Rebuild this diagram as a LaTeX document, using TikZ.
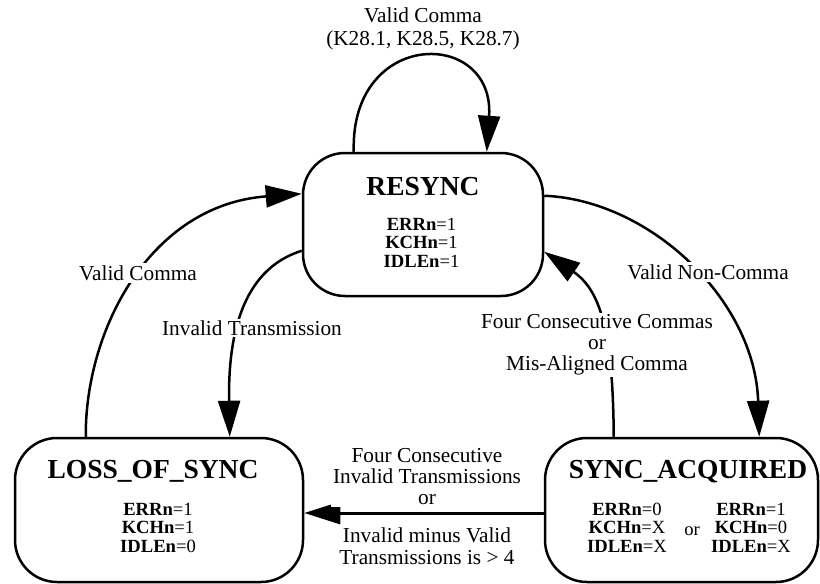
\documentclass[tikz,border=0pt]{standalone}
\usepackage{fontspec}
\setmainfont{Liberation Serif}
\usetikzlibrary{arrows.meta,calc}
\begin{document}
\begin{tikzpicture}[x=1pt,y=-1pt,
  state/.style={draw, line width=2.5pt, rounded corners=42pt, inner sep=0pt},
  edge/.style={line width=2.5pt, -{Triangle[length=36pt,width=22pt]}},
  lbl/.style={font=\fontsize{21.3}{21}\selectfont, align=center, fill=white, inner sep=2pt},
  title/.style={font=\fontsize{27.5}{30}\selectfont\bfseries, anchor=base, inner sep=0pt},
  body/.style={font=\fontsize{18.6}{18.5}\selectfont, align=center, inner sep=0pt}]
\useasboundingbox (0,0) rectangle (820,584);

% states
\node[state, minimum width=240pt, minimum height=143pt] (resync) at (423,224.5) {};
\node[state, minimum width=288pt, minimum height=144pt] (loss) at (159,510) {};
\node[state, minimum width=273pt, minimum height=144pt] (sync) at (681.5,510) {};

\node[title] (t1) at (423,195) {RESYNC};
\node[title] (t2) at (153,478) {LOSS\_OF\_SYNC};
\node[title] (t3) at (688,478) {SYNC\_ACQUIRED};

\node[body] (b1) at (421.5,242.6) {\textbf{ERRn}=1\\\textbf{KCHn}=1\\\textbf{IDLEn}=1};
\node[body] (b2) at (158,527.6) {\textbf{ERRn}=1\\\textbf{KCHn}=1\\\textbf{IDLEn}=0};
\node[body] (b3) at (627,527.6) {\textbf{ERRn}=0\\\textbf{KCHn}=X\\\textbf{IDLEn}=X};
\node[body] (b4) at (692,531) {or};
\node[body] (b5) at (751,527.6) {\textbf{ERRn}=1\\\textbf{KCHn}=0\\\textbf{IDLEn}=X};

% edges
\draw[edge] ([xshift=52pt]resync.north west) .. controls (350,28) and (495,28) .. ([xshift=185pt]resync.north west);
\draw[edge] ([xshift=72pt]loss.north west) .. controls (85,330) and (150,205) .. ([yshift=-42pt]resync.north west);
\draw[edge] ([yshift=-99pt]resync.north west) .. controls (240,270) and (228,340) .. ([xshift=216pt]loss.north west);
\draw[edge] ([yshift=-44pt]resync.north east) .. controls (650,200) and (755,300) .. ([xshift=-60pt]sync.north east);
\draw[edge] ([xshift=70pt]sync.north west) .. controls (613,330) and (600,290) .. ([yshift=-100pt]resync.north east);
\draw[edge, line width=3pt] ([yshift=-3pt]sync.west) -- ([yshift=-3pt]loss.east);

% labels
\node[lbl, font=\fontsize{21.3}{23}\selectfont] (l1) at (423,29) {Valid Comma\\(K28.1, K28.5, K28.7)};
\node[lbl] (l2) at (138,273) {Valid Comma};
\node[lbl] (l3) at (252,328) {Invalid Transmission};
\node[lbl] (l4) at (708,272) {Valid Non-Comma};
\node[lbl] (l5) at (597,345) {Four Consecutive Commas\\or\\Mis-Aligned Comma};
\node[lbl] (l6) at (427,477) {Four Consecutive\\Invalid Transmissions\\or};
\node[lbl, font=\fontsize{21.3}{22}\selectfont] (l7) at (427,546) {Invalid minus Valid\\Transmissions is > 4};
\end{tikzpicture}
\end{document}
